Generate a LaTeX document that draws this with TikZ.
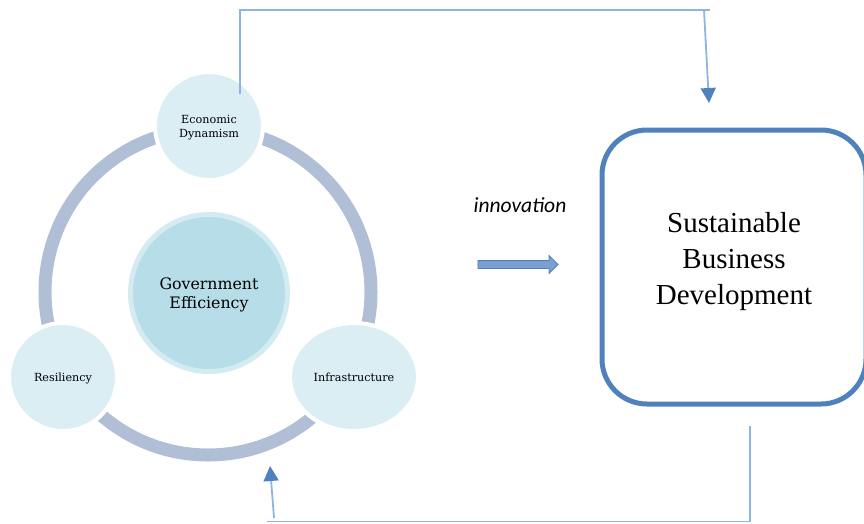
\documentclass[tikz,border=0pt]{standalone}
\usepackage{fontspec}
\setmainfont{Liberation Serif}
\newfontfamily\bubblefont{DejaVu Serif}
\newfontfamily\labelfont{Carlito}
\usetikzlibrary{positioning, arrows.meta, calc, shapes.geometric, shapes.arrows}

\definecolor{ringgray}{HTML}{B0BED6}
\definecolor{bubblefill}{HTML}{DAEEF3}
\definecolor{hubfill}{HTML}{B6DDE8}
\definecolor{hubglow}{HTML}{D3EBF1}
\definecolor{linkblue}{HTML}{8EB4E3}
\definecolor{tipblue}{HTML}{4F81BD}

\begin{document}
\begin{tikzpicture}[
    x=1pt, y=-1pt,
    bubble/.style={circle, draw=white, line width=4pt, fill=bubblefill, minimum size=108pt, inner sep=0pt, align=center, text depth=0pt, font=\bubblefont\fontsize{11.2}{14}\selectfont},
    hub/.style={circle, draw=hubglow, line width=5pt, fill=hubfill, minimum size=157pt, inner sep=0pt, align=center, text depth=0pt, font=\bubblefont\fontsize{15.8}{19}\selectfont},
    goal/.style={rectangle, rounded corners=45pt, draw=tipblue, line width=5pt, minimum width=264pt, minimum height=274pt, align=center, text depth=18pt, font=\fontsize{29}{36}\selectfont},
    link/.style={draw=linkblue, line width=1.8pt},
    arrow/.style={link, -{Triangle[length=15pt, width=15pt, color=tipblue]}},
    fatarrow/.style={single arrow, draw=tipblue, fill=tipblue!75, line width=0.8pt, minimum height=80pt, inner sep=3.5pt, single arrow head extend=5pt},
]
\useasboundingbox (0,0) rectangle (864,523);

% Ring
\draw[ringgray, line width=13pt] (208,292) circle (163pt);

% Pillars on the ring
\node[bubble] (econ) at (209,126) {Economic\\Dynamism};
\node[bubble] (resil) at (63,377) {Resiliency};
\node[bubble, ellipse, minimum width=128pt, minimum height=108pt] (infra) at (354,377) {Infrastructure};

% Centre
\node[hub] (gov) at (209,293) {Government\\Efficiency};

% ========== OUTCOME ==========
\node[goal] (sbd) at (734,267) {Sustainable\\Business\\Development};

\node[font=\labelfont\itshape\fontsize{21.5}{24}\selectfont] (innov) at (520,205) {innovation};
\node[fatarrow] (innov_arrow) at (516,264.5) {};

% Top loop
\coordinate (top_right) at (710,10);
\coordinate (top_start) at (704,10);
\coordinate (sbd_in) at (709,103);
\draw[link] ([xshift=31pt, yshift=32pt]econ.center) |- (top_right);
\draw[arrow] (top_start) -- (sbd_in);

% Bottom loop
\coordinate (bot_left) at (267,521.5);
\coordinate (bot_start) at (274,518);
\coordinate (ring_in) at (270,466);
\draw[link] ([xshift=16pt, yshift=-19pt]sbd.south) |- (bot_left);
\draw[arrow] (bot_start) -- (ring_in);

\end{tikzpicture}
\end{document}
